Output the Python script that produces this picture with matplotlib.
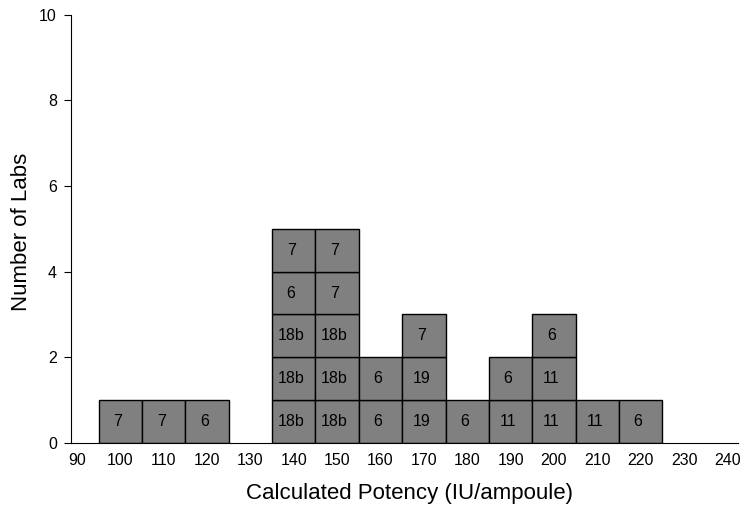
import matplotlib.pyplot as plt

plt.rcParams['font.family'] = ['Liberation Sans', 'DejaVu Sans']

# potency bins (IU/ampoule) and lab codes stacked from bottom up
bins = [100, 110, 120, 140, 150, 160, 170, 180, 190, 200, 210, 220]
labs = [
    ["7"],
    ["7"],
    ["6"],
    ["18b", "18b", "18b", "6", "7"],
    ["18b", "18b", "18b", "7", "7"],
    ["6", "6"],
    ["19", "19", "7"],
    ["6"],
    ["11", "6"],
    ["11", "11", "6"],
    ["11"],
    ["6"],
]
x_ticks = list(range(90, 250, 10))
y_ticks = [0, 2, 4, 6, 8, 10]

fig = plt.figure(figsize=(7.46, 5.12), dpi=100)
ax = fig.add_axes([0.095, 0.135, 0.894, 0.836])

for x, codes in zip(bins, labs):
    for level, code in enumerate(codes):
        ax.bar(x, 1, width=10, bottom=level, color="#808080",
               edgecolor="black", linewidth=1)
        ax.text(x - 0.6, level + 0.5, code, ha="center", va="center", fontsize=11.5)

ax.set_xlim(88.6, 242.4)
ax.set_ylim(0, 10)
ax.set_xticks(x_ticks)
ax.set_yticks(y_ticks)
ax.tick_params(axis="x", length=0, labelsize=11.5, pad=7)
ax.tick_params(axis="y", length=5, labelsize=11.5, direction="out", pad=5)
ax.spines["top"].set_visible(False)
ax.spines["right"].set_visible(False)
ax.set_xlabel("Calculated Potency (IU/ampoule)", fontsize=16)
ax.set_ylabel("Number of Labs", fontsize=16)
ax.xaxis.set_label_coords(0.507, -0.093)
ax.yaxis.set_label_coords(-0.058, 0.492)

fig.savefig("out.png", dpi=100)
